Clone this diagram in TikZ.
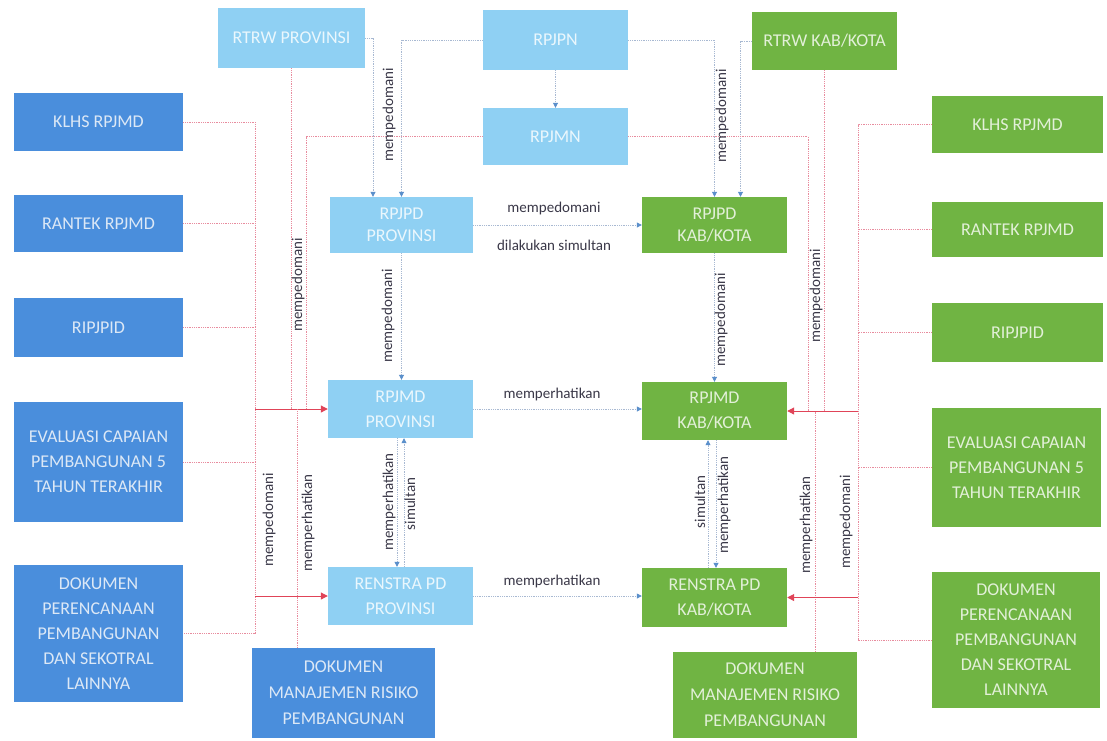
\documentclass[tikz,border=0pt]{standalone}
\usepackage{fontspec}
\setmainfont{Carlito}
\usetikzlibrary{arrows.meta}
\definecolor{cdark}{HTML}{4A8EDC}
\definecolor{clight}{HTML}{8FD0F3}
\definecolor{cgreen}{HTML}{70B443}
\definecolor{tdark}{HTML}{DCE8F6}
\definecolor{tlight}{HTML}{EAF7FD}
\definecolor{tgreen}{HTML}{E2F0D8}
\definecolor{cpink}{HTML}{E88C9E}
\definecolor{cred}{HTML}{E04458}
\definecolor{cline}{HTML}{A8B9D2}
\definecolor{carrow}{HTML}{5A8FCB}
\definecolor{clab}{HTML}{3A3848}
\begin{document}
\begin{tikzpicture}[x=1pt,y=-1pt,
  box/.style={inner sep=0pt, align=center, font=\fontsize{18}{25}\selectfont},
  dbox/.style={box, fill=cdark, text=tdark},
  lbox/.style={box, fill=clight, text=tlight},
  gbox/.style={box, fill=cgreen, text=tgreen},
  pk/.style={draw=cpink, densely dotted, line width=0.8pt},
  bl/.style={draw=cline, densely dotted, line width=0.8pt, -{Triangle[length=5pt,width=5pt,color=carrow]}},
  rd/.style={draw=cred, line width=1pt, -{Triangle[length=7pt,width=7pt]}},
  lab/.style={font=\fontsize{15}{18}\selectfont, text=clab, inner sep=1pt},
  vlab/.style={lab, rotate=90},
]
\useasboundingbox (0,0) rectangle (1107,740);
\fill[white] (0,0) rectangle (1107,740);

% top row
\node[lbox, minimum width=147pt, minimum height=60pt] (rtrwp) at (291.5,38) {RTRW PROVINSI};
\node[lbox, minimum width=145pt, minimum height=60pt] (rpjpn) at (555.5,40) {RPJPN};
\node[gbox, minimum width=145pt, minimum height=58pt] (rtrwk) at (824.5,41) {RTRW KAB/KOTA};
\node[lbox, minimum width=145pt, minimum height=57pt] (rpjmn) at (555.5,136.5) {RPJMN};

% left column
\node[dbox, minimum width=169pt, minimum height=58pt] (klhsL) at (98.5,122) {KLHS RPJMD};
\node[dbox, minimum width=169pt, minimum height=57pt] (rantekL) at (98.5,223.5) {RANTEK RPJMD};
\node[dbox, minimum width=169pt, minimum height=59pt] (ripjpidL) at (98.5,327.5) {RIPJPID};
\node[dbox, minimum width=169pt, minimum height=120pt] (evalL) at (98.5,462) {EVALUASI CAPAIAN\\PEMBANGUNAN 5\\TAHUN TERAKHIR};
\node[dbox, minimum width=169pt, minimum height=137pt] (dokL) at (98.5,633.5) {DOKUMEN\\PERENCANAAN\\PEMBANGUNAN\\DAN SEKOTRAL\\LAINNYA};
\node[dbox, minimum width=183pt, minimum height=90pt, font=\fontsize{18}{26}\selectfont] (manL) at (343.5,693) {DOKUMEN\\MANAJEMEN RISIKO\\PEMBANGUNAN};

% centre
\node[lbox, minimum width=143pt, minimum height=56pt, font=\fontsize{18}{22}\selectfont] (rpjpdP) at (401.5,225) {RPJPD\\PROVINSI};
\node[lbox, minimum width=145pt, minimum height=58pt] (rpjmdP) at (400.5,409) {RPJMD\\PROVINSI};
\node[lbox, minimum width=145pt, minimum height=58pt] (renP) at (400.5,596) {RENSTRA PD\\PROVINSI};
\node[gbox, minimum width=145pt, minimum height=56pt, font=\fontsize{18}{22}\selectfont] (rpjpdK) at (714.5,225) {RPJPD\\KAB/KOTA};
\node[gbox, minimum width=145pt, minimum height=58pt] (rpjmdK) at (714.5,411) {RPJMD\\KAB/KOTA};
\node[gbox, minimum width=145pt, minimum height=59pt] (renK) at (714.5,597.5) {RENSTRA PD\\KAB/KOTA};
\node[gbox, minimum width=184pt, minimum height=86pt, font=\fontsize{18}{26}\selectfont] (manK) at (765,695) {DOKUMEN\\MANAJEMEN RISIKO\\PEMBANGUNAN};

% right column
\node[gbox, minimum width=171pt, minimum height=57pt] (klhsR) at (1017.5,124.5) {KLHS RPJMD};
\node[gbox, minimum width=171pt, minimum height=55pt] (rantekR) at (1017.5,229.5) {RANTEK RPJMD};
\node[gbox, minimum width=171pt, minimum height=59pt] (ripjpidR) at (1017.5,332.5) {RIPJPID};
\node[gbox, minimum width=169pt, minimum height=119pt] (evalR) at (1016.5,467.5) {EVALUASI CAPAIAN\\PEMBANGUNAN 5\\TAHUN TERAKHIR};
\node[gbox, minimum width=168pt, minimum height=136pt] (dokR) at (1016,640) {DOKUMEN\\PERENCANAAN\\PEMBANGUNAN\\DAN SEKOTRAL\\LAINNYA};

% helper x positions
\coordinate (lb) at (255,0);
\coordinate (lv2) at (306,0);
\coordinate (lv3) at (297,0);
\coordinate (tv1) at (373,0);
\coordinate (tv2) at (740.5,0);
\coordinate (rv1) at (808,0);
\coordinate (rv3) at (815,0);
\coordinate (rb) at (858,0);

% left bus
\draw[pk] (klhsL.east) -| (lb |- dokL.east) -- (dokL.east);
\foreach \n in {rantekL,ripjpidL,evalL} \draw[pk] (\n.east) -- (lb |- \n.east);
\draw[rd] (lb |- rpjmdP.west) -- (rpjmdP.west);
\draw[rd] (lb |- renP.west) -- (renP.west);
\draw[pk] (rtrwp.south) -- (rtrwp.south |- rpjmdP.west);
\draw[pk] (rpjmn.west) -| (lv2 |- rpjmdP.west);
\draw[pk] (lv3 |- manL.north) -- (lv3 |- rpjmdP.west);

% top
\draw[bl] (rtrwp.east) -| (tv1 |- rpjpdP.north);
\draw[bl] (rpjpn.west) -| (rpjpdP.north);
\draw[bl] (rpjpn.south) -- (rpjmn.north);
\draw[bl] (rpjpn.east) -| (rpjpdK.north);
\draw[bl] (rtrwk.west) -| (tv2 |- rpjpdK.north);

% right bus
\draw[pk] (rpjmn.east) -| (rv1 |- rpjmdK.east);
\draw[pk] (rtrwk.south) -- (rtrwk.south |- rpjmdK.east);
\draw[pk] (rv3 |- manK.north) -- (rv3 |- rpjmdK.east);
\draw[pk] (klhsR.west) -| (rb |- dokR.west) -- (dokR.west);
\foreach \n in {rantekR,ripjpidR,evalR} \draw[pk] (\n.west) -- (rb |- \n.west);
\draw[rd] (rb |- rpjmdK.east) -- (rpjmdK.east);
\draw[rd] (rb |- renK.east) -- (renK.east);

% centre connectors
\draw[bl] (rpjpdP.east) -- (rpjpdK.west);
\draw[bl] (rpjpdP.south) -- (rpjpdP.south |- rpjmdP.north);
\draw[bl] (rpjpdK.south) -- (rpjmdK.north);
\draw[bl] (rpjmdP.east) -- (rpjmdP.east -| rpjmdK.west);
\draw[bl] (renP.east) -- (renP.east -| renK.west);
\draw[bl] ([xshift=-3.5pt]rpjmdP.south) -- ([xshift=-3.5pt]renP.north);
\draw[bl] ([xshift=3.5pt]renP.north) -- ([xshift=3.5pt]rpjmdP.south);
\draw[bl] ([xshift=-6.5pt]renK.north) -- ([xshift=-6.5pt]rpjmdK.south);
\draw[bl] ([xshift=1.5pt]rpjmdK.south) -- ([xshift=1.5pt]renK.north);

% labels
\node[vlab] (l1) at (298,285) {mempedomani};
\node[vlab] (l2) at (269,520) {mempedomani};
\node[vlab] (l3) at (308,523) {memperhatikan};
\node[vlab] (l4) at (389,115) {mempedomani};
\node[vlab] (l5) at (722,116) {mempedomani};
\node[vlab] (l6) at (816,296) {mempedomani};
\node[vlab] (l7) at (806,525) {memperhatikan};
\node[vlab] (l8) at (846,522) {mempedomani};
\node[lab] (l9) at (554,208) {mempedomani};
\node[lab] (l10) at (554,245) {dilakukan simultan};
\node[vlab] (l11) at (388,316) {mempedomani};
\node[vlab] (l12) at (721,320) {mempedomani};
\node[lab] (l13) at (552,394) {memperhatikan};
\node[lab] (l14) at (552,581) {memperhatikan};
\node[vlab] (l15) at (389,502) {memperhatikan};
\node[vlab] (l16) at (410,504) {simultan};
\node[vlab] (l17) at (700,502) {simultan};
\node[vlab] (l18) at (724,505) {memperhatikan};
\end{tikzpicture}
\end{document}
